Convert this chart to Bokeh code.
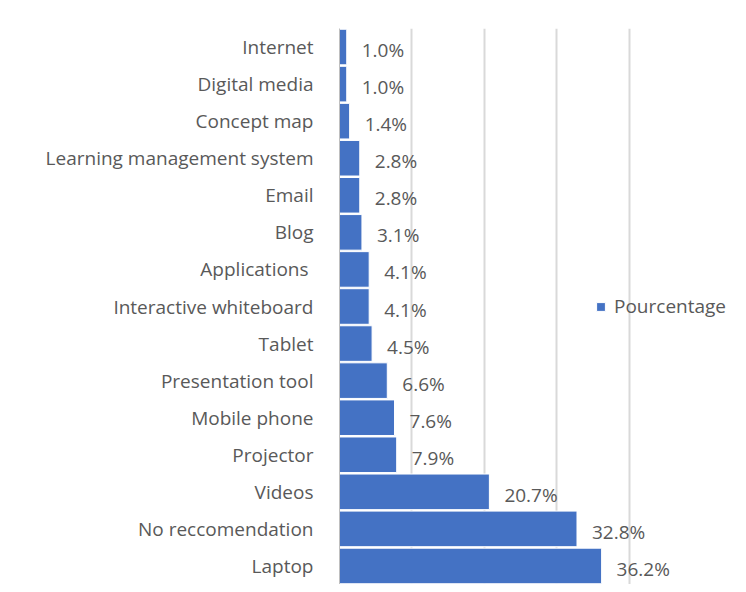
from bokeh.plotting import figure
from bokeh.models import ColumnDataSource, FactorRange, Range1d, FixedTicker, LabelSet
from bokeh.embed import file_html
from bokeh.resources import INLINE
from bokeh.core.properties import value

categories = ["Internet", "Digital media", "Concept map", "Learning management system",
              "Email", "Blog", "Applications ", "Interactive whiteboard", "Tablet",
              "Presentation tool", "Mobile phone", "Projector", "Videos",
              "No reccomendation", "Laptop"]
percentages = [1.0, 1.0, 1.4, 2.8, 2.8, 3.1, 4.1, 4.1, 4.5, 6.6, 7.6, 7.9, 20.7, 32.8, 36.2]
grid_ticks = [0, 10, 20, 30, 40]
series_name = "Pourcentage"

labels = [f"{v:.1f}%" for v in percentages]
src = ColumnDataSource(dict(cat=categories, val=percentages, lab=labels))

FS = "19px"
p = figure(width=730, height=584, output_backend="svg", toolbar_location=None,
           y_range=FactorRange(factors=list(reversed(categories)), range_padding=0),
           x_range=Range1d(0, 54.0))
p.min_border_left = 339
p.min_border_top = 28
p.min_border_bottom = 0
p.min_border_right = 0
p.outline_line_color = None
p.background_fill_color = "white"
p.border_fill_color = "white"

p.hbar(y="cat", right="val", left=0, height=0.96, source=src,
       fill_color="#4472C4", line_color="white", line_width=1, legend_label=series_name)

p.add_layout(LabelSet(x="val", y="cat", text="lab", source=src, x_offset=15, y_offset=-3,
                      text_baseline="middle", text_font=value("Open Sans"),
                      text_font_size=FS, text_color="#595959"))

p.xaxis.visible = False
p.xgrid.ticker = FixedTicker(ticks=grid_ticks)
p.xgrid.grid_line_color = "#d9d9d9"
p.xgrid.grid_line_width = 2
p.ygrid.grid_line_color = None

p.yaxis.axis_line_color = "#bfbfbf"
p.yaxis.axis_line_width = 1
p.yaxis.major_tick_line_color = None
p.yaxis.minor_tick_line_color = None
p.yaxis.major_label_text_font = "Open Sans"
p.yaxis.major_label_text_font_size = FS
p.yaxis.major_label_text_color = "#595959"
p.yaxis.major_label_standoff = 20

p.legend.location = (256, 265)
p.legend.background_fill_alpha = 0
p.legend.border_line_color = None
p.legend.padding = 0
p.legend.margin = 0
p.legend.glyph_width = 11
p.legend.glyph_height = 11
p.legend.label_text_font = "Open Sans"
p.legend.label_text_font_size = FS
p.legend.label_text_color = "#595959"
p.legend.label_standoff = 8

open("out.html", "w").write(file_html(p, INLINE))
